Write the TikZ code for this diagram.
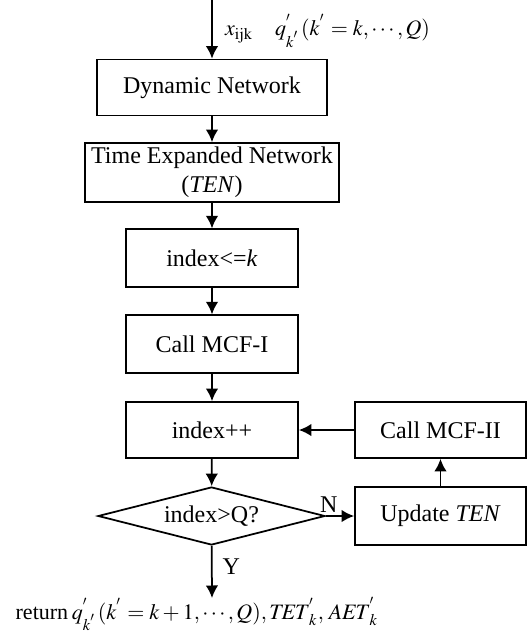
\documentclass[tikz,border=0pt]{standalone}
\usepackage{mathptmx}
\usepackage{fontspec}
\setmainfont{Liberation Serif}
\usetikzlibrary{shapes.geometric,arrows.meta}

\tikzset{
  box/.style={draw, line width=0.7pt, minimum width=68.8pt, minimum height=23pt,
    inner sep=1pt, align=center, font=\fontsize{9.6}{11.5}\selectfont},
  decide/.style={draw, diamond, line width=0.7pt, aspect=3.9, minimum width=90.8pt,
    minimum height=23.2pt, inner sep=0pt, font=\fontsize{9.6}{11.5}\selectfont},
  lbl/.style={font=\fontsize{9.6}{11.5}\selectfont, inner sep=1pt},
  mathlbl/.style={font=\fontsize{8.8}{10.5}\selectfont, inner sep=1pt},
  flow/.style={line width=0.7pt, -{Latex[length=5pt, width=5pt]}}
}

\begin{document}
\begin{tikzpicture}[x=0.4pt, y=-0.4pt]
  \useasboundingbox (0,0) rectangle (531,636);

  %% main column
  \coordinate (in) at (212,0);
  \node[box, minimum width=92pt, minimum height=22.4pt] (dyn) at (212,87.5) {Dynamic Network};
  \node[box, minimum width=101.6pt, minimum height=23.6pt] (ten) at (212,172.5)
    {Time Expanded Network\\(\textit{TEN})};
  \node[box] (idx) at (212,258) {index<=\textit{k}};
  \node[box] (mcfa) at (212,344) {Call MCF-I};
  \node[box, minimum height=22.4pt] (inc) at (212,430) {index++};
  \node[decide] (test) at (211.5,516) {index>Q?};
  \coordinate (out) at (212,598);

  %% loop on the right
  \node[box, minimum width=68.4pt, minimum height=22.4pt] (mcfb) at (440.5,430) {Call MCF-II};
  \node[box, minimum width=68.4pt] (upd) at (440.5,516) {Update \textit{TEN}};

  %% input / output
  \node[mathlbl, anchor=west] (inp) at (222,31)
    {$x_{\mathrm{ijk}}$\quad $q^{'}_{k^{'}}(k^{'}=k,\cdots,Q)$};
  \node[mathlbl] (ret) at (197,614)
    {return\,$q^{'}_{k^{'}}(k^{'}=k+1,\cdots,Q),\mathit{TET}^{'}_{k},\,\mathit{AET}^{'}_{k}$};

  \draw[flow] (in) -- (dyn);
  \draw[flow] (dyn) -- (ten);
  \draw[flow] (ten) -- (idx);
  \draw[flow] (idx) -- (mcfa);
  \draw[flow] (mcfa) -- (inc);
  \draw[flow] (inc) -- (test);
  \draw[flow] (test) -- node[lbl, above, pos=0.1] {N} (upd);
  \draw[flow] (upd) -- (mcfb);
  \draw[flow] (mcfb) -- (inc);
  \draw[flow] (test) -- node[lbl, right, pos=0.4, xshift=3pt] {Y} (out);
\end{tikzpicture}
\end{document}
